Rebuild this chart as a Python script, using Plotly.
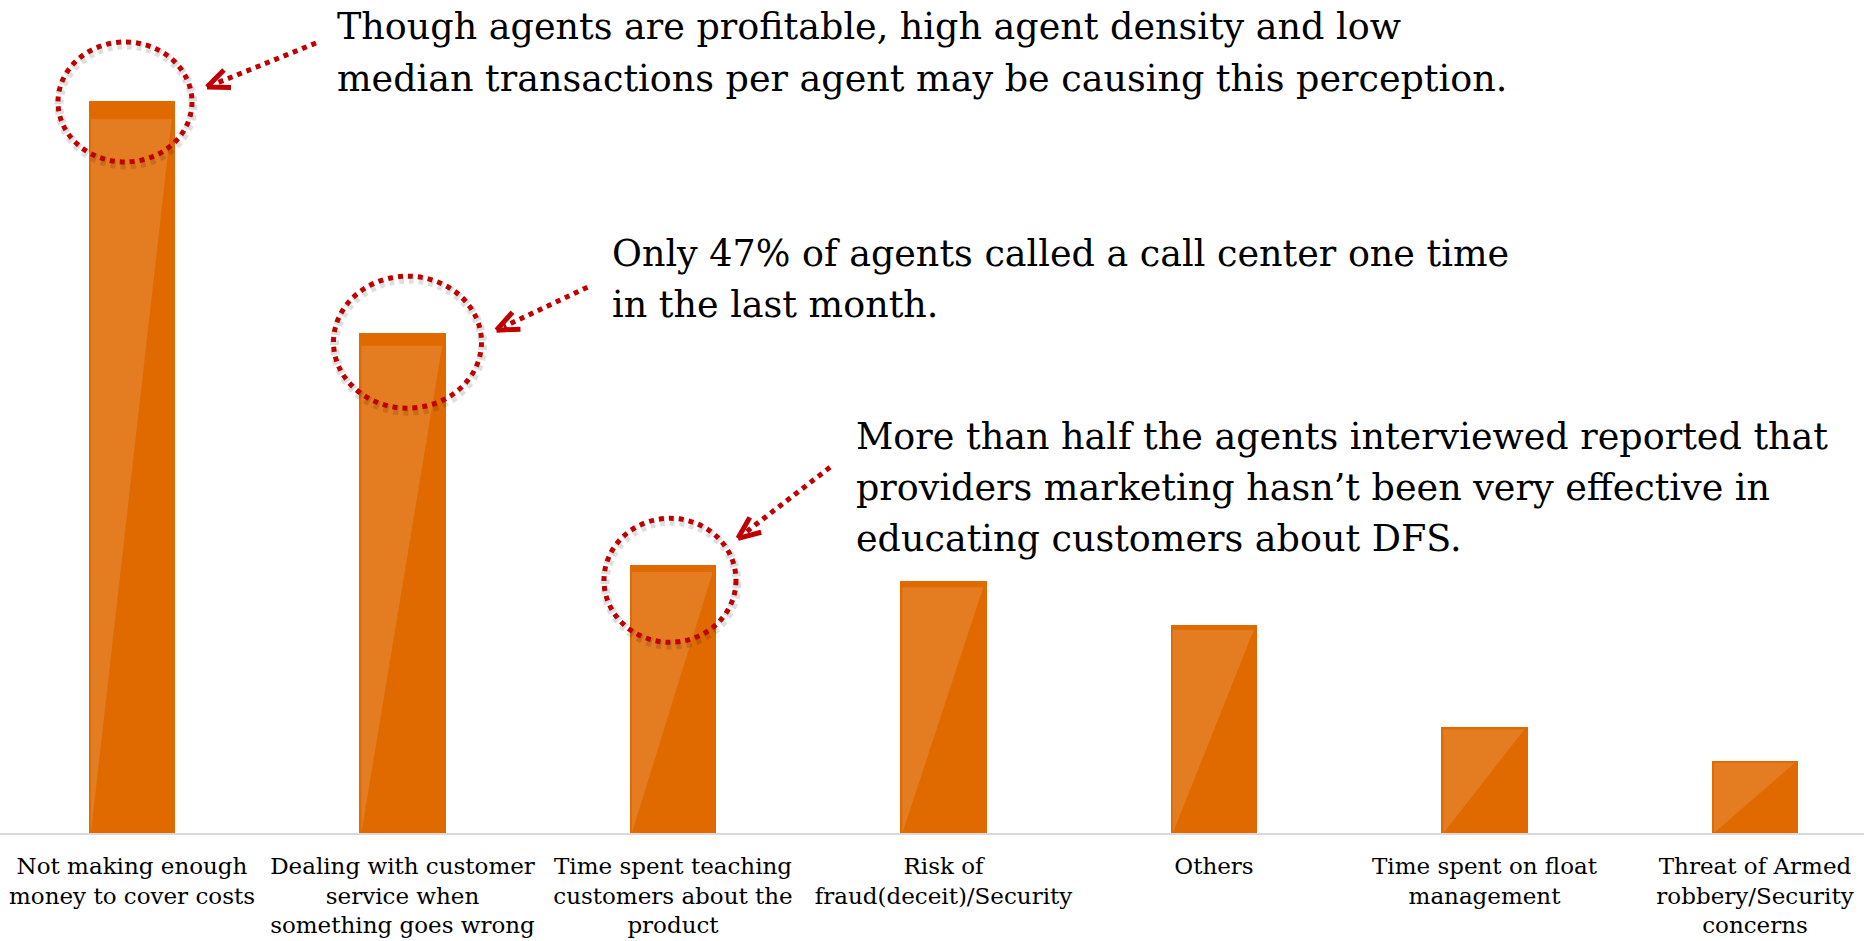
import math
import plotly.graph_objects as go

# ---------------- data ----------------
categories = [
    "Not making enough money to cover costs",
    "Dealing with customer service when something goes wrong",
    "Time spent teaching customers about the product",
    "Risk of fraud(deceit)/Security",
    "Others",
    "Time spent on float management",
    "Threat of Armed robbery/Security concerns",
]
tick_labels = [
    "Not making enough<br>money to cover costs",
    "Dealing with customer<br>service when<br>something goes wrong",
    "Time spent teaching<br>customers about the<br>product",
    "Risk of<br>fraud(deceit)/Security",
    "Others",
    "Time spent on float<br>management",
    "Threat of Armed<br>robbery/Security<br>concerns",
]
values = [35.0, 23.9, 12.8, 12.05, 9.95, 5.07, 3.44]

callout_bars = [0, 1, 2]
callout_lines = [
    ["Though agents are profitable, high agent density and low",
     "median transactions per agent may be causing this perception."],
    ["Only 47% of agents called a call center one time",
     "in the last month."],
    ["More than half the agents interviewed reported that",
     "providers marketing hasn\u2019t been very effective in",
     "educating customers about DFS."],
]

# ---------------- style ----------------
W, H = 1864, 941
PLOT_H = 833
BAR_COLOR = "#E06A00"
GLOSS = "rgba(255,255,255,0.13)"
RED = "#C00000"
SERIF = "DejaVu Serif"
BAR_W = 0.318
X_RANGE = [-0.488, 6.403]
Y_MAX = 39.83

# circle styles: (dx, dy_up, rx, ry) in pixels relative to bar top-centre
circle_style = [(-7, -1, 67, 60), (5, -9, 74, 66), (-3, -15, 66, 62)]
# arrow styles: tail (dx, dy_up), tip (dx, dy_up)
arrow_style = [((184, 58), (75, 14)), ((185, 46), (94, 3)), ((157, 98), (65, 27))]
# text block: left x px, first line centre y px, line spacing px
text_style = [(335, 27, 51), (610, 253, 51), (854, 436, 51)]

x_pos = list(range(len(categories)))

fig = go.Figure()
fig.add_trace(go.Bar(
    x=x_pos, y=values, width=BAR_W, marker=dict(color=BAR_COLOR, line=dict(width=0)),
    hovertext=categories, hoverinfo="text+y", showlegend=False,
))

# gloss overlay triangles derived from bar geometry
for xi, v in zip(x_pos, values):
    xl = xi - BAR_W / 2 + 0.007
    xr = xi + BAR_W / 2 - 0.012
    yt = v * (1 - 0.025)
    fig.add_trace(go.Scatter(
        x=[xl, xl, xr, xl], y=[0, yt, yt, 0], mode="lines", fill="toself",
        fillcolor=GLOSS, line=dict(width=0), hoverinfo="skip", showlegend=False,
    ))

shapes = []
for bi, (dx, dy, rx, ry) in zip(callout_bars, circle_style):
    xa, ya = x_pos[bi], values[bi]
    # shadow
    shapes.append(dict(
        type="circle", xref="x", yref="y", xsizemode="pixel", ysizemode="pixel",
        xanchor=xa, yanchor=ya, x0=dx - rx + 1, x1=dx + rx + 1, y0=dy - ry - 3, y1=dy + ry - 3,
        line=dict(color="rgba(0,0,0,0.13)", width=9, dash="5px,5px"), layer="above",
    ))
    shapes.append(dict(
        type="circle", xref="x", yref="y", xsizemode="pixel", ysizemode="pixel",
        xanchor=xa, yanchor=ya, x0=dx - rx, x1=dx + rx, y0=dy - ry, y1=dy + ry,
        line=dict(color=RED, width=5, dash="dot"), layer="above",
    ))

for bi, ((tx, ty), (hx, hy)) in zip(callout_bars, arrow_style):
    xa, ya = x_pos[bi], values[bi]
    common = dict(type="line", xref="x", yref="y", xsizemode="pixel", ysizemode="pixel",
                  xanchor=xa, yanchor=ya, layer="above")
    # dotted shaft (stop a little before the tip)
    L = math.hypot(tx - hx, ty - hy)
    ux, uy = (tx - hx) / L, (ty - hy) / L
    shapes.append(dict(common, x0=tx, y0=ty, x1=hx + ux * 8, y1=hy + uy * 8,
                       line=dict(color=RED, width=5, dash="dot")))
    # chevron head
    for ang in (23, -23):
        a = math.radians(ang)
        vx = ux * math.cos(a) - uy * math.sin(a)
        vy = ux * math.sin(a) + uy * math.cos(a)
        shapes.append(dict(common, x0=hx, y0=hy, x1=hx + vx * 24, y1=hy + vy * 24,
                           line=dict(color=RED, width=5)))

annotations = []
for (lx, cy, sp), lines in zip(text_style, callout_lines):
    for k, txt in enumerate(lines):
        py = cy + k * sp
        annotations.append(dict(
            text=txt, xref="paper", yref="paper", x=lx / W, y=1 - py / PLOT_H,
            xanchor="left", yanchor="middle", showarrow=False,
            font=dict(family=SERIF, size=36.5, color="#000000"),
        ))

fig.update_layout(
    width=W, height=H,
    margin=dict(l=0, r=0, t=0, b=H - PLOT_H, pad=0),
    paper_bgcolor="white", plot_bgcolor="white",
    shapes=shapes, annotations=annotations,
    bargap=0,
    xaxis=dict(
        range=X_RANGE, tickvals=x_pos, ticktext=tick_labels, tickangle=0,
        showgrid=False, zeroline=False, showline=True, linecolor="#D9D9D9", linewidth=2,
        ticks="", ticklabelstandoff=11,
        tickfont=dict(family=SERIF, size=23, color="#000000"),
        fixedrange=True,
    ),
    yaxis=dict(range=[0, Y_MAX], visible=False, fixedrange=True),
)

fig.write_html("out.html", post_script="document.body.style.margin='0';",
               config={"displayModeBar": False})
